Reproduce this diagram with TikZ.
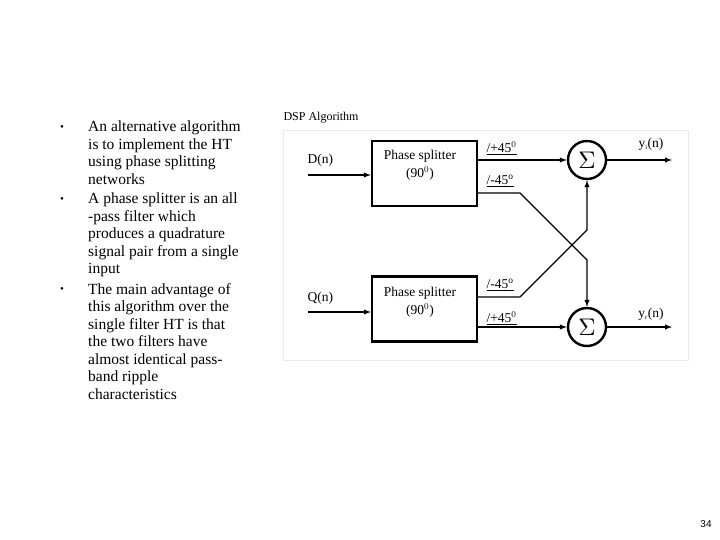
\documentclass[tikz,border=0pt]{standalone}
\usepackage{fontspec}
\setmainfont{Liberation Serif}
\newfontfamily\pnfont{Liberation Sans}
\begin{document}
\begin{tikzpicture}[x=1pt,y=-1pt,
  blk/.style={draw,line width=2.4pt,minimum width=105pt,minimum height=65pt},
  sumc/.style={draw,circle,line width=2.4pt,minimum size=38pt,inner sep=0pt},
  wire/.style={line width=1.4pt},
  arr/.style={wire,-latex},
  lab/.style={font=\fontsize{13.5}{15}\selectfont},
  bul/.style={font=\fontsize{15.5}{17.5}\selectfont,align=left,anchor=north west,inner sep=0pt},
  dot/.style={font=\fontsize{11}{12}\selectfont,anchor=north west,inner sep=0pt}]
\useasboundingbox (0,0) rectangle (720,540);
% bullets
\node[bul] (p1) at (88,121) {An alternative algorithm\\is to implement the HT\\using phase splitting\\networks};
\node[bul] (p2) at (88,193) {A phase splitter is an all\\-pass filter which\\produces a quadrature\\signal pair from a single\\input};
\node[bul] (p3) at (88,283) {The main advantage of\\this algorithm over the\\single filter HT is that\\the two filters have\\almost identical pass-\\band ripple\\characteristics};
\node[dot] (d1) at (60,125) {•};
\node[dot] (d2) at (60,197) {•};
\node[dot] (d3) at (60,287) {•};
% diagram
\node[font=\fontsize{12}{13}\selectfont,anchor=west] (title) at (280,118) {DSP Algorithm};
\node[draw=black!8,line width=0.8pt,minimum width=405pt,minimum height=230pt,anchor=north west] (frame) at (283,130) {};
\node[blk] (ps1) at (424.5,173.5) {};
\node[lab,align=center] (ps1t) at (420,165) {Phase splitter\\[3pt](90$^0$)};
\node[blk] (ps2) at (424.5,309) {};
\node[lab,align=center] (ps2t) at (420,302) {Phase splitter\\[3pt](90$^0$)};
\node[sumc] (s1) at (587,160) {\scalebox{2.4}{$\Sigma$}};
\node[sumc] (s2) at (587,327) {\scalebox{2.4}{$\Sigma$}};
\coordinate (din) at (308,175);
\coordinate (qin) at (308,312);
\node[lab,anchor=west] (dl) at (304,160) {D(n)};
\node[lab,anchor=west] (ql) at (304,298) {Q(n)};
\draw[arr] (din) -- (ps1.west |- din);
\draw[arr] (qin) -- (ps2.west |- qin);
\draw[arr] (ps1.east |- s1) -- (s1.west);
\draw[arr] (ps2.east |- s2) -- (s2.west);
\coordinate (a1) at (520,193);
\coordinate (a2) at (587,260);
\coordinate (c1) at (520,297);
\coordinate (c2) at (587,230);
\draw[arr] (ps1.east |- a1) -- (a1) -- (a2) -- (s2.north);
\draw[arr] (ps2.east |- c1) -- (c1) -- (c2) -- (s1.south);
\node[lab,anchor=west] (l1) at (483,148) {\underline{/+45$^0$}};
\node[lab,anchor=west] (l2) at (483,181) {\underline{/-45$^{\rm o}$}};
\node[lab,anchor=west] (l3) at (483,285) {\underline{/-45$^{\rm o}$}};
\node[lab,anchor=west] (l4) at (483,318) {\underline{/+45$^0$}};
\coordinate (o1) at (672,160);
\coordinate (o2) at (672,327);
\draw[arr] (s1.east) -- (o1);
\draw[arr] (s2.east) -- (o2);
\node[lab] (y1) at (651,144) {y$_{\scriptscriptstyle\rm i}$(n)};
\node[lab] (y2) at (651,314) {y$_{\scriptscriptstyle\rm r}$(n)};
\node[font=\pnfont\fontsize{10}{12}\selectfont] (pg) at (706,524) {34};
\end{tikzpicture}
\end{document}
